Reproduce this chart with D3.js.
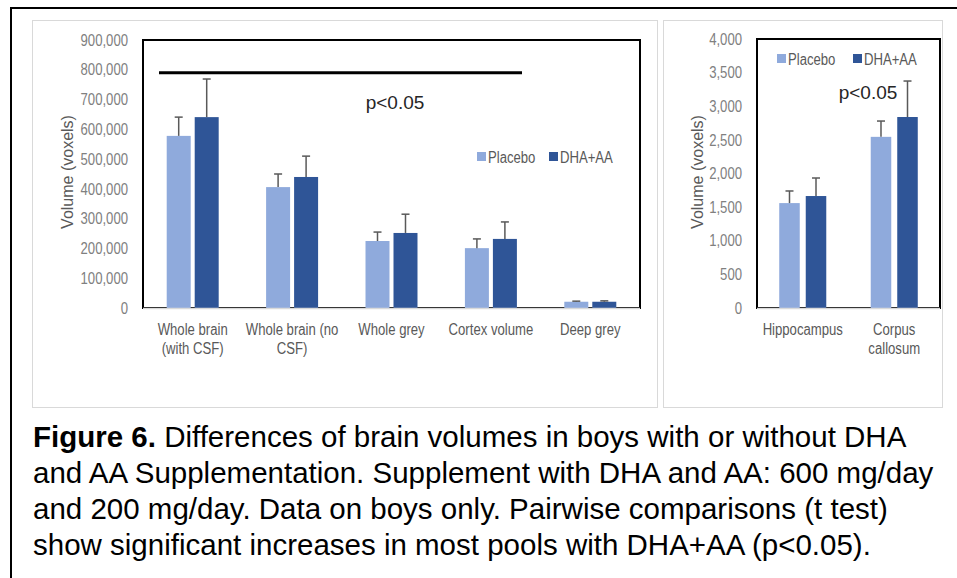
<!DOCTYPE html>
<html>
<head>
<meta charset="utf-8">
<script src="https://cdn.jsdelivr.net/npm/d3@7"></script>
<style>
  body { margin: 0; background: #fff; }
  svg { display: block; }
</style>
</head>
<body>
<svg width="957" height="578"></svg>
<script>
// data
var seriesNames = ['Placebo', 'DHA+AA'];

var leftCategories = ['Whole brain (with CSF)', 'Whole brain (no CSF)', 'Whole grey', 'Cortex volume', 'Deep grey'];
var leftLabelLines = [['Whole brain', '(with CSF)'], ['Whole brain (no', 'CSF)'], ['Whole grey'], ['Cortex volume'], ['Deep grey']];
var leftPlacebo = [578000, 406000, 225000, 201000, 21000];
var leftPlaceboSD = [63000, 44000, 30000, 31000, 2000];
var leftDha = [641000, 440000, 252000, 232000, 21000];
var leftDhaSD = [128000, 70000, 63000, 57000, 3000];
var leftTicks = [0, 100000, 200000, 300000, 400000, 500000, 600000, 700000, 800000, 900000];

var rightCategories = ['Hippocampus', 'Corpus callosum'];
var rightLabelLines = [['Hippocampus'], ['Corpus', 'callosum']];
var rightPlacebo = [1560, 2545];
var rightPlaceboSD = [180, 235];
var rightDha = [1665, 2840];
var rightDhaSD = [268, 535];
var rightTicks = [0, 500, 1000, 1500, 2000, 2500, 3000, 3500, 4000];

var captionLines = [
	['Figure 6.', ' Differences of brain volumes in boys with or without DHA'],
	['', 'and AA Supplementation. Supplement with DHA and AA: 600 mg/day'],
	['', 'and 200 mg/day. Data on boys only. Pairwise comparisons (t test)'],
	['', 'show significant increases in most pools with DHA+AA (p<0.05).']
];

var colors = { 'Placebo': '#8faadc', 'DHA+AA': '#2f5597' };
var arial = '"Liberation Sans", Arial, sans-serif';
var narrowRatio = 0.82;	// no Arial Narrow here, so squeeze Liberation Sans

var svg = d3.select('svg');

// squeeze text horizontally to look like Arial Narrow
function narrowify(sel) {
	sel.each(function() {
		var w = this.getComputedTextLength();
		d3.select(this)
			.attr('textLength', w * narrowRatio)
			.attr('lengthAdjust', 'spacingAndGlyphs');
	});
}

// outer frame
svg.append('rect')
	.attr('x', 11).attr('y', 8)
	.attr('width', 960).attr('height', 600)
	.attr('fill', 'none').attr('stroke', '#000').attr('stroke-width', 2);

// chart panels
svg.append('rect').attr('x', 32.5).attr('y', 20.5).attr('width', 625).attr('height', 387)
	.attr('fill', '#fff').attr('stroke', '#d9d9d9');
svg.append('rect').attr('x', 663.5).attr('y', 20.5).attr('width', 279).attr('height', 387)
	.attr('fill', '#fff').attr('stroke', '#d9d9d9');

function drawChart(opt) {
	var g = svg.append('g');

	var x0 = d3.scaleBand()
		.domain(opt.categories)
		.range([opt.left, opt.right])
		.paddingInner(opt.pad)
		.paddingOuter(opt.pad / 2);

	var x1 = d3.scaleBand()
		.domain(seriesNames)
		.range([0, x0.bandwidth()])
		.paddingInner(opt.innerPad);

	var y = d3.scaleLinear()
		.domain([0, opt.ticks[opt.ticks.length - 1]])
		.range([opt.bottom, opt.top]);

	// plot frame
	g.append('rect')
		.attr('x', opt.left).attr('y', opt.top)
		.attr('width', opt.right - opt.left).attr('height', opt.bottom - opt.top)
		.attr('fill', 'none').attr('stroke', '#000').attr('stroke-width', 2);

	// y axis labels
	var yAxis = d3.axisLeft(y)
		.tickValues(opt.ticks)
		.tickFormat(d3.format(','))
		.tickSize(0)
		.tickPadding(0);
	var ya = g.append('g')
		.attr('transform', 'translate(' + opt.labelRight + ',0)')
		.call(yAxis);
	ya.select('.domain').remove();
	ya.selectAll('text')
		.attr('fill', '#808080')
		.style('font-family', arial)
		.style('font-size', '16px')
		.call(narrowify);

	// bars
	var rows = opt.categories.map(function(c, i) {
		return {
			cat: c,
			values: [
				{ key: 'Placebo', v: opt.placebo[i], sd: opt.placeboSD[i] },
				{ key: 'DHA+AA', v: opt.dha[i], sd: opt.dhaSD[i] }
			]
		};
	});

	var grp = g.selectAll('.grp').data(rows).enter().append('g')
		.attr('transform', function(d) { return 'translate(' + x0(d.cat) + ',0)'; });

	grp.selectAll('rect').data(function(d) { return d.values; }).enter().append('rect')
		.attr('x', function(d) { return x1(d.key); })
		.attr('width', x1.bandwidth())
		.attr('y', function(d) { return y(d.v); })
		.attr('height', function(d) { return y(0) - y(d.v); })
		.attr('fill', function(d) { return colors[d.key]; });

	// error bars (upper only)
	var err = grp.selectAll('.err').data(function(d) { return d.values; }).enter().append('g')
		.attr('stroke', '#595959').attr('stroke-width', 1.5);
	err.append('line')
		.attr('x1', function(d) { return x1(d.key) + x1.bandwidth() / 2; })
		.attr('x2', function(d) { return x1(d.key) + x1.bandwidth() / 2; })
		.attr('y1', function(d) { return y(d.v); })
		.attr('y2', function(d) { return y(d.v + d.sd); });
	err.append('line')
		.attr('x1', function(d) { return x1(d.key) + x1.bandwidth() / 2 - 4; })
		.attr('x2', function(d) { return x1(d.key) + x1.bandwidth() / 2 + 4; })
		.attr('y1', function(d) { return y(d.v + d.sd); })
		.attr('y2', function(d) { return y(d.v + d.sd); });

	// x axis line
	g.append('line')
		.attr('x1', opt.left).attr('x2', opt.right)
		.attr('y1', y(0) + 0.5).attr('y2', y(0) + 0.5)
		.attr('stroke', '#d9d9d9').attr('stroke-width', 1.5);

	// category labels
	opt.categories.forEach(function(c, i) {
		opt.labelLines[i].forEach(function(line, k) {
			g.append('text')
				.attr('x', x0(c) + x0.bandwidth() / 2)
				.attr('y', 335 + k * 19)
				.attr('text-anchor', 'middle')
				.attr('fill', '#595959')
				.style('font-family', arial)
				.style('font-size', '16px')
				.text(line)
				.call(narrowify);
		});
	});

	// y title
	g.append('text')
		.attr('transform', 'translate(' + opt.titleX + ',172) rotate(-90)')
		.attr('text-anchor', 'middle')
		.attr('fill', '#595959')
		.style('font-family', arial)
		.style('font-size', '16px')
		.text('Volume (voxels)');

	// legend
	var leg = g.selectAll('.leg').data(seriesNames).enter().append('g')
		.attr('transform', function(d, i) { return 'translate(' + opt.legendX[i] + ',' + opt.legendY + ')'; });
	leg.append('rect')
		.attr('x', 0).attr('y', -5).attr('width', 9).attr('height', 9)
		.attr('fill', function(d) { return colors[d]; });
	leg.append('text')
		.attr('x', 11).attr('y', 6)
		.attr('fill', '#595959')
		.style('font-family', arial)
		.style('font-size', '16px')
		.text(function(d) { return d; })
		.call(narrowify);

	return { x0: x0, y: y };
}

var left = drawChart({
	categories: leftCategories, labelLines: leftLabelLines,
	placebo: leftPlacebo, placeboSD: leftPlaceboSD, dha: leftDha, dhaSD: leftDhaSD,
	ticks: leftTicks,
	left: 143, right: 640, top: 40, bottom: 308,
	pad: 0.477, innerPad: 0.143,
	labelRight: 128, titleX: 73,
	legendX: [477, 549], legendY: 157
});

var right = drawChart({
	categories: rightCategories, labelLines: rightLabelLines,
	placebo: rightPlacebo, placeboSD: rightPlaceboSD, dha: rightDha, dhaSD: rightDhaSD,
	ticks: rightTicks,
	left: 757, right: 940, top: 39, bottom: 308,
	pad: 0.486, innerPad: 0.226,
	labelRight: 742, titleX: 703,
	legendX: [777, 853], legendY: 59
});

// significance annotations
svg.append('line')
	.attr('x1', 159).attr('x2', 522)
	.attr('y1', left.y(790000)).attr('y2', left.y(790000))
	.attr('stroke', '#000').attr('stroke-width', 3);

svg.append('text')
	.attr('x', 395).attr('y', 109)
	.attr('text-anchor', 'middle')
	.attr('fill', '#262626')
	.style('font-family', arial)
	.style('font-size', '19px')
	.text('p<0.05');

svg.append('text')
	.attr('x', 868).attr('y', 99)
	.attr('text-anchor', 'middle')
	.attr('fill', '#262626')
	.style('font-family', arial)
	.style('font-size', '19px')
	.text('p<0.05');

// caption
var cap = svg.append('g')
	.style('font-family', arial)
	.style('font-size', '29.5px')
	.attr('fill', '#000');
captionLines.forEach(function(parts, i) {
	var t = cap.append('text').attr('x', 33).attr('y', 447 + i * 36);
	if (parts[0]) t.append('tspan').attr('font-weight', 'bold').text(parts[0]);
	t.append('tspan').text(parts[1]);
});
</script>
</body>
</html>
